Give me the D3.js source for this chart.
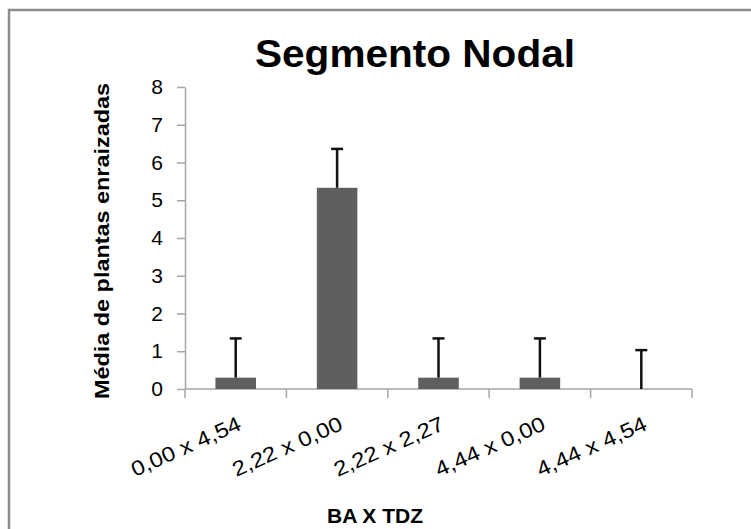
<!DOCTYPE html>
<html>
<head>
<meta charset="utf-8">
<script src="https://cdn.jsdelivr.net/npm/d3@7"></script>
<style>
  html, body { margin: 0; padding: 0; background: #fff; }
  svg { display: block; }
</style>
</head>
<body>
<div id="chart"></div>
<script>
const categories = ["0,00 x 4,54", "2,22 x 0,00", "2,22 x 2,27", "4,44 x 0,00", "4,44 x 4,54"];
const means = [0.3, 5.33, 0.3, 0.3, 0];
const errors = [1.04, 1.03, 1.04, 1.04, 1.03];
const yTicks = [0, 1, 2, 3, 4, 5, 6, 7, 8];

const colors = { bar: "#5f5f5f", axis: "#a6a6a6", border: "#8c8c8c", ink: "#000" };
const font = '"Liberation Sans", Arial, sans-serif';

const W = 751, H = 529;
const plot = { left: 185, right: 692, top: 87, bottom: 389 };

const svg = d3.select("#chart").append("svg")
    .attr("width", W)
    .attr("height", H);

// moldura do gráfico (sai da imagem à direita e embaixo)
svg.append("rect")
    .attr("x", 9).attr("y", 10)
    .attr("width", 800).attr("height", 600)
    .attr("fill", "none")
    .attr("stroke", colors.border)
    .attr("stroke-width", 2.5);

const x = d3.scaleBand()
    .domain(categories)
    .range([plot.left, plot.right])
    .paddingInner(0.6)
    .paddingOuter(0.3);

const y = d3.scaleLinear()
    .domain([0, 8])
    .range([plot.bottom, plot.top]);

// eixo Y
const yAxis = svg.append("g")
    .attr("transform", `translate(${plot.left},0)`)
    .call(d3.axisLeft(y).tickValues(yTicks).tickSize(8).tickPadding(14).tickSizeOuter(0));
yAxis.selectAll("path, line").attr("stroke", colors.axis).attr("stroke-width", 1.5);
yAxis.selectAll("text")
    .attr("font-family", font)
    .attr("font-size", "21px")
    .attr("fill", colors.ink);

// eixo X: linha e marcas nas divisas das categorias
const boundaries = categories.map(d => x(d) - x.step() * x.paddingInner() / 2)
    .concat([plot.right]);

svg.append("line")
    .attr("x1", plot.left).attr("x2", plot.right)
    .attr("y1", y(0)).attr("y2", y(0))
    .attr("stroke", colors.axis).attr("stroke-width", 1.5);

svg.selectAll(".xtick")
    .data(boundaries)
    .enter().append("line")
    .attr("class", "xtick")
    .attr("x1", d => d).attr("x2", d => d)
    .attr("y1", y(0)).attr("y2", y(0) + 9)
    .attr("stroke", colors.axis).attr("stroke-width", 1.5);

// barras
svg.selectAll(".bar")
    .data(categories)
    .enter().append("rect")
    .attr("class", "bar")
    .attr("x", d => x(d))
    .attr("width", x.bandwidth())
    .attr("y", (d, i) => y(means[i]))
    .attr("height", (d, i) => y(0) - y(means[i]))
    .attr("fill", colors.bar);

// barras de erro (só para cima)
const errG = svg.selectAll(".err")
    .data(categories)
    .enter().append("g")
    .attr("class", "err")
    .attr("transform", d => `translate(${x(d) + x.bandwidth() / 2},0)`);

errG.append("line")
    .attr("y1", (d, i) => y(means[i]))
    .attr("y2", (d, i) => y(means[i] + errors[i]))
    .attr("stroke", "#111").attr("stroke-width", 2.5);

errG.append("line")
    .attr("x1", -6).attr("x2", 6)
    .attr("y1", (d, i) => y(means[i] + errors[i]))
    .attr("y2", (d, i) => y(means[i] + errors[i]))
    .attr("stroke", "#111").attr("stroke-width", 2.5);

// rótulos das categorias, inclinados
svg.selectAll(".xlabel")
    .data(categories)
    .enter().append("text")
    .attr("class", "xlabel")
    .attr("transform", d => `translate(${x(d) + x.bandwidth() / 2 + 7},429) rotate(-24)`)
    .attr("text-anchor", "end")
    .attr("font-family", font)
    .attr("font-size", "21px")
    .attr("textLength", 118)
    .attr("lengthAdjust", "spacingAndGlyphs")
    .attr("fill", colors.ink)
    .text(d => d);

// título
svg.append("text")
    .attr("x", 415).attr("y", 67)
    .attr("text-anchor", "middle")
    .attr("font-family", font)
    .attr("font-weight", "bold")
    .attr("font-size", "39px")
    .attr("textLength", 320)
    .attr("lengthAdjust", "spacingAndGlyphs")
    .text("Segmento Nodal");

// título do eixo Y
svg.append("text")
    .attr("transform", "translate(109,241) rotate(-90)")
    .attr("text-anchor", "middle")
    .attr("font-family", font)
    .attr("font-weight", "bold")
    .attr("font-size", "21px")
    .attr("textLength", 316)
    .attr("lengthAdjust", "spacingAndGlyphs")
    .text("Média de plantas enraizadas");

// título do eixo X
svg.append("text")
    .attr("x", 375).attr("y", 523)
    .attr("text-anchor", "middle")
    .attr("font-family", font)
    .attr("font-weight", "bold")
    .attr("font-size", "21px")
    .text("BA X TDZ");
</script>
</body>
</html>
